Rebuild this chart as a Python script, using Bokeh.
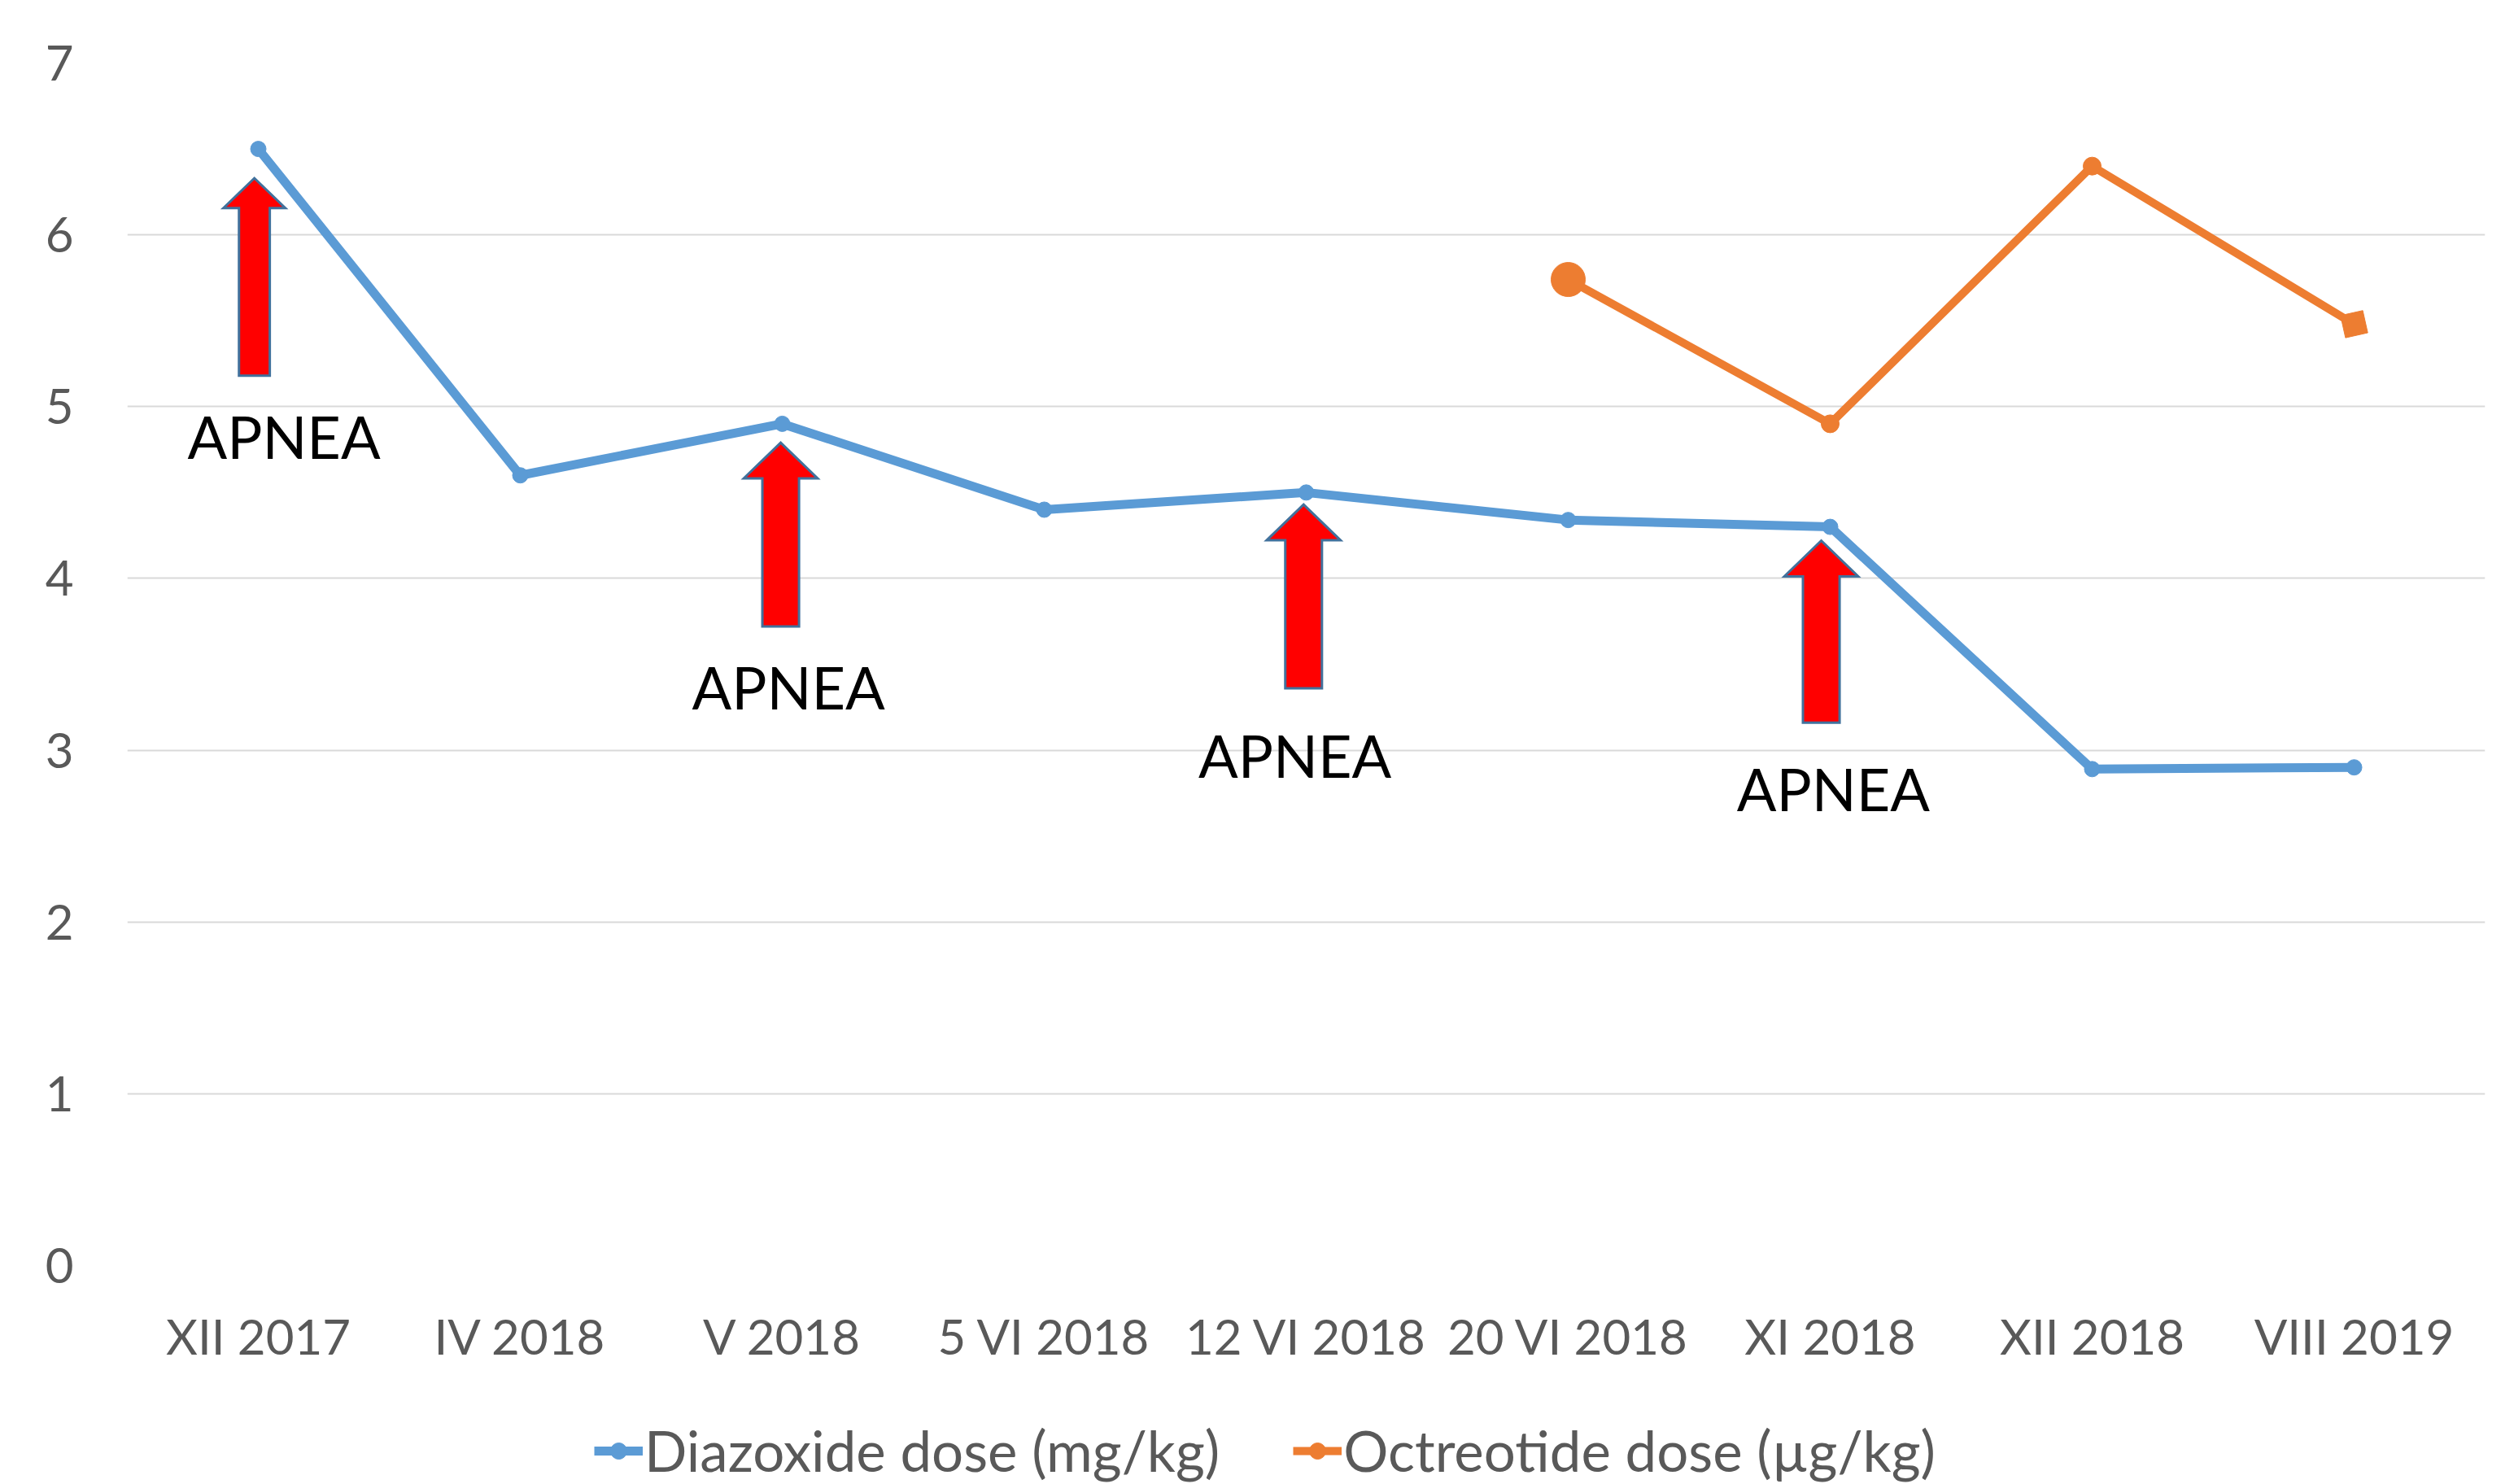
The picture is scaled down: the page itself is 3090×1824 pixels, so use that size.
from bokeh.plotting import figure
from bokeh.layouts import column
from bokeh.models import Legend, LegendItem, FixedTicker, Range1d
from bokeh.core.properties import value
from bokeh.embed import file_html
from bokeh.resources import INLINE

# ---- data ----
categories = ["XII 2017", "IV 2018", "V 2018", "5 VI 2018", "12 VI 2018",
              "20 VI 2018", "XI 2018", "XII 2018", "VIII 2019"]
diazoxide = [6.5, 4.6, 4.9, 4.4, 4.5, 4.34, 4.3, 2.89, 2.9]
octreotide = [None, None, None, None, None, 5.74, 4.9, 6.4, 5.48]
y_ticks = [0, 1, 2, 3, 4, 5, 6, 7]

apnea_categories = ["XII 2017", "V 2018", "12 VI 2018", "XI 2018"]
apnea_arrow_tip = [6.33, 4.79, 4.43, 4.22]
apnea_arrow_base = [5.18, 3.72, 3.36, 3.16]
apnea_label_y = [4.83, 3.37, 2.97, 2.78]
apnea_text = "APNEA"

# ---- styles / placement offsets (category units) ----
BLUE = "#5B9BD5"
ORANGE = "#ED7D31"
TEXT = "#595959"
GRID = "#D9D9D9"
FONT = "Lato"
arrow_dx = [-0.015, -0.006, -0.01, -0.034]
arrow_scale = [0.84, 1.0, 1.0, 1.0]
label_dx = [0.098, 0.024, -0.043, 0.012]

W = 3090
MAIN_H = 1680
LEG_H = 144
FRAME_LEFT = 156

p = figure(width=W, height=MAIN_H, output_backend="svg", toolbar_location=None,
           x_range=Range1d(-0.5, len(categories) - 0.5), y_range=Range1d(0, 7),
           min_border_left=FRAME_LEFT, min_border_right=36, min_border_top=77,
           min_border_bottom=MAIN_H - 1555)
p.outline_line_color = None
p.background_fill_color = "white"
p.border_fill_color = "white"

xs = list(range(len(categories)))

# grid / axes
p.xgrid.grid_line_color = None
p.ygrid.grid_line_color = GRID
p.ygrid.grid_line_width = 2
p.ygrid.ticker = FixedTicker(ticks=y_ticks)

p.xaxis.ticker = FixedTicker(ticks=xs)
p.xaxis.major_label_overrides = {i: c for i, c in enumerate(categories)}
p.yaxis.ticker = FixedTicker(ticks=y_ticks)
for ax in (p.xaxis, p.yaxis):
    ax.axis_line_color = None
    ax.major_tick_line_color = None
    ax.minor_tick_line_color = None
    ax.major_tick_out = 0
    ax.major_tick_in = 0
    ax.major_label_text_font = FONT
    ax.major_label_text_font_size = "60px"
    ax.major_label_text_color = TEXT
p.xaxis.major_label_standoff = 50
p.yaxis.major_label_standoff = 66

# diazoxide
p.line(xs, diazoxide, line_color=BLUE, line_width=11, line_join="round")
p.scatter(xs, diazoxide, size=19, marker="circle", fill_color=BLUE, line_color=BLUE)

# octreotide
ox = [x for x, v in zip(xs, octreotide) if v is not None]
oy = [v for v in octreotide if v is not None]
p.line(ox, oy, line_color=ORANGE, line_width=10, line_join="round")
p.scatter(ox[:1], oy[:1], size=42, marker="circle", fill_color=ORANGE, line_color=ORANGE)
p.scatter(ox[1:-1], oy[1:-1], size=22, marker="circle", fill_color=ORANGE, line_color=ORANGE)
p.scatter(ox[-1:], oy[-1:], size=28, marker="square", angle=0.22, fill_color=ORANGE, line_color=ORANGE)

# APNEA arrows and labels
half_shaft = 0.07
half_head = 0.141
head_h = 0.208
arr_xs, arr_ys = [], []
for cat, tip, base, dx, s in zip(apnea_categories, apnea_arrow_tip, apnea_arrow_base,
                                  arrow_dx, arrow_scale):
    c = categories.index(cat) + dx
    hs, hh, hd = half_shaft * s, half_head * s, head_h * s
    hb = tip - hd
    arr_xs.append([c - hs, c - hs, c - hh, c, c + hh, c + hs, c + hs])
    arr_ys.append([base, hb, hb, tip, hb, hb, base])
p.patches(arr_xs, arr_ys, fill_color="#FF0000", line_color="#41719C", line_width=3,
          line_join="miter")

label_x = [categories.index(c) + dx for c, dx in zip(apnea_categories, label_dx)]
p.text(label_x, apnea_label_y, text=[apnea_text] * len(label_x),
       text_font=value(FONT), text_font_size="72px", text_color="black",
       text_align="center", text_baseline="middle")

# ---- legend strip below the chart ----
lg = figure(width=W, height=LEG_H, output_backend="svg", toolbar_location=None,
            x_range=Range1d(0, 1), y_range=Range1d(0, 1),
            x_axis_location=None, y_axis_location=None,
            min_border_left=0, min_border_right=0, min_border_top=0, min_border_bottom=0)
lg.outline_line_color = None
lg.xgrid.grid_line_color = None
lg.ygrid.grid_line_color = None
# keys drawn outside the strip's visible range; only their legend swatches show
off = [-5, -4]
bl = lg.line(off, off, line_color=BLUE, line_width=11)
bp = lg.scatter(off, off, size=19, marker="circle", fill_color=BLUE, line_color=BLUE)
ol = lg.line(off, off, line_color=ORANGE, line_width=10)
op = lg.scatter(off, off, size=30, marker="circle", fill_color=ORANGE, line_color=ORANGE)

legend = Legend(items=[
    LegendItem(label="Diazoxide dose (mg/kg)", renderers=[bl, bp]),
    LegendItem(label="Octreotide dose (µg/kg)", renderers=[ol, op]),
], orientation="horizontal", location=(730 - FRAME_LEFT, 0))
legend.label_text_font = FONT
legend.label_text_font_size = "69px"
legend.label_text_color = TEXT
legend.glyph_width = 60
legend.glyph_height = 50
legend.label_standoff = 2
legend.spacing = 90
legend.border_line_color = None
legend.background_fill_alpha = 0
legend.padding = 0
legend.margin = 0
lg.add_layout(legend, "center")

layout = column(p, lg, spacing=0)
open("out.html", "w").write(file_html(layout, INLINE))
